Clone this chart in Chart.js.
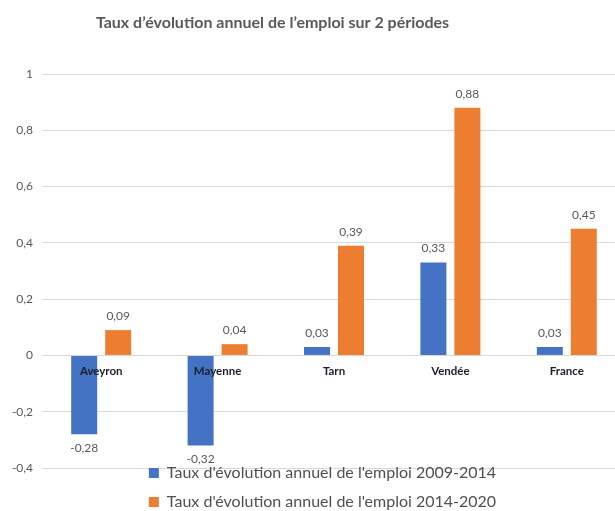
<!DOCTYPE html>
<html lang="fr">
<head>
<meta charset="utf-8">
<script src="https://cdn.jsdelivr.net/npm/chart.js@4"></script>
<style>
  html, body { margin: 0; padding: 0; background: #fff; overflow: hidden; }
  #wrap { width: 625px; height: 511px; }
</style>
</head>
<body>
<div id="wrap"><canvas id="myChart" width="625" height="511"></canvas></div>
<script>
const categories = ["Aveyron", "Mayenne", "Tarn", "Vendée", "France"];
const serie20092014 = [-0.28, -0.32, 0.03, 0.33, 0.03];
const serie20142020 = [0.09, 0.04, 0.39, 0.88, 0.45];
const libellesSeries = [
  "Taux d'évolution annuel de l'emploi 2009-2014",
  "Taux d'évolution annuel de l'emploi 2014-2020",
];
const ticksY = [-0.4, -0.2, 0, 0.2, 0.4, 0.6, 0.8, 1];
const titre = "Taux d’évolution annuel de l’emploi sur 2 périodes";

Chart.defaults.font.family = "Lato, sans-serif";

function virgule(v) {
  return String(v).replace(".", ",");
}

// étiquettes de catégories sur l'axe zéro + valeurs au-dessus / en dessous des barres
const etiquettes = {
  id: "etiquettes",
  afterLayout(chart) {
    // titre décalé à gauche, légende remontée sur le bas du graphique
    chart.titleBlock.left -= 40;
    chart.titleBlock.right -= 40;
    chart.legend.top -= 16;
    chart.legend.left += 10;
    chart.legend.right += 10;
  },
  afterDatasetsDraw(chart) {
    const ctx = chart.ctx;
    const x = chart.scales.x;
    const y = chart.scales.y;
    const zero = y.getPixelForValue(0);
    ctx.save();
    ctx.textAlign = "center";
    ctx.textBaseline = "middle";
    ctx.font = "bold 11.5px Lato";
    ctx.fillStyle = "#1d1d2b";
    categories.forEach((c, i) => {
      ctx.fillText(c, x.getPixelForValue(i), zero + 16);
    });
    ctx.font = "12px Lato";
    ctx.fillStyle = "#595959";
    chart.data.datasets.forEach((ds, d) => {
      chart.getDatasetMeta(d).data.forEach((bar, i) => {
        const v = ds.data[i];
        ctx.fillText(v.toFixed(2).replace(".", ","), bar.x, v >= 0 ? bar.y - 14 : bar.y + 14);
      });
    });
    ctx.restore();
  },
};

const ctx = document.getElementById("myChart");

new Chart(ctx, {
  type: "bar",
  data: {
    labels: categories,
    datasets: [
      {
        label: libellesSeries[0],
        data: serie20092014,
        backgroundColor: "#4472C4",
        categoryPercentage: 0.584,
        barPercentage: 0.765,
      },
      {
        label: libellesSeries[1],
        data: serie20142020,
        backgroundColor: "#ED7D31",
        categoryPercentage: 0.584,
        barPercentage: 0.765,
      },
    ],
  },
  options: {
    responsive: false,
    animation: false,
    plugins: {
      title: {
        display: true,
        text: titre,
        color: "#595959",
        font: { size: 16, weight: "bold" },
        padding: { top: 13, bottom: 41.8 },
      },
      legend: {
        position: "bottom",
        maxHeight: 43,
        labels: {
          color: "#505050",
          font: { size: 16 },
          boxWidth: 10,
          boxHeight: 10,
          padding: 13,
        },
      },
      tooltip: { enabled: false },
    },
    scales: {
      x: {
        display: false,
      },
      y: {
        min: -0.4,
        max: 1,
        afterBuildTicks: (scale) => {
          scale.ticks = ticksY.map((v) => ({ value: v }));
        },
        afterFit: (scale) => {
          scale.width = 43;
        },
        border: { display: false },
        grid: { color: "#d9d9d9", drawTicks: false },
        ticks: {
          color: "#595959",
          font: { size: 12 },
          padding: 10,
          callback: (value) => virgule(value),
        },
      },
    },
  },
  plugins: [etiquettes],
});
</script>
</body>
</html>
